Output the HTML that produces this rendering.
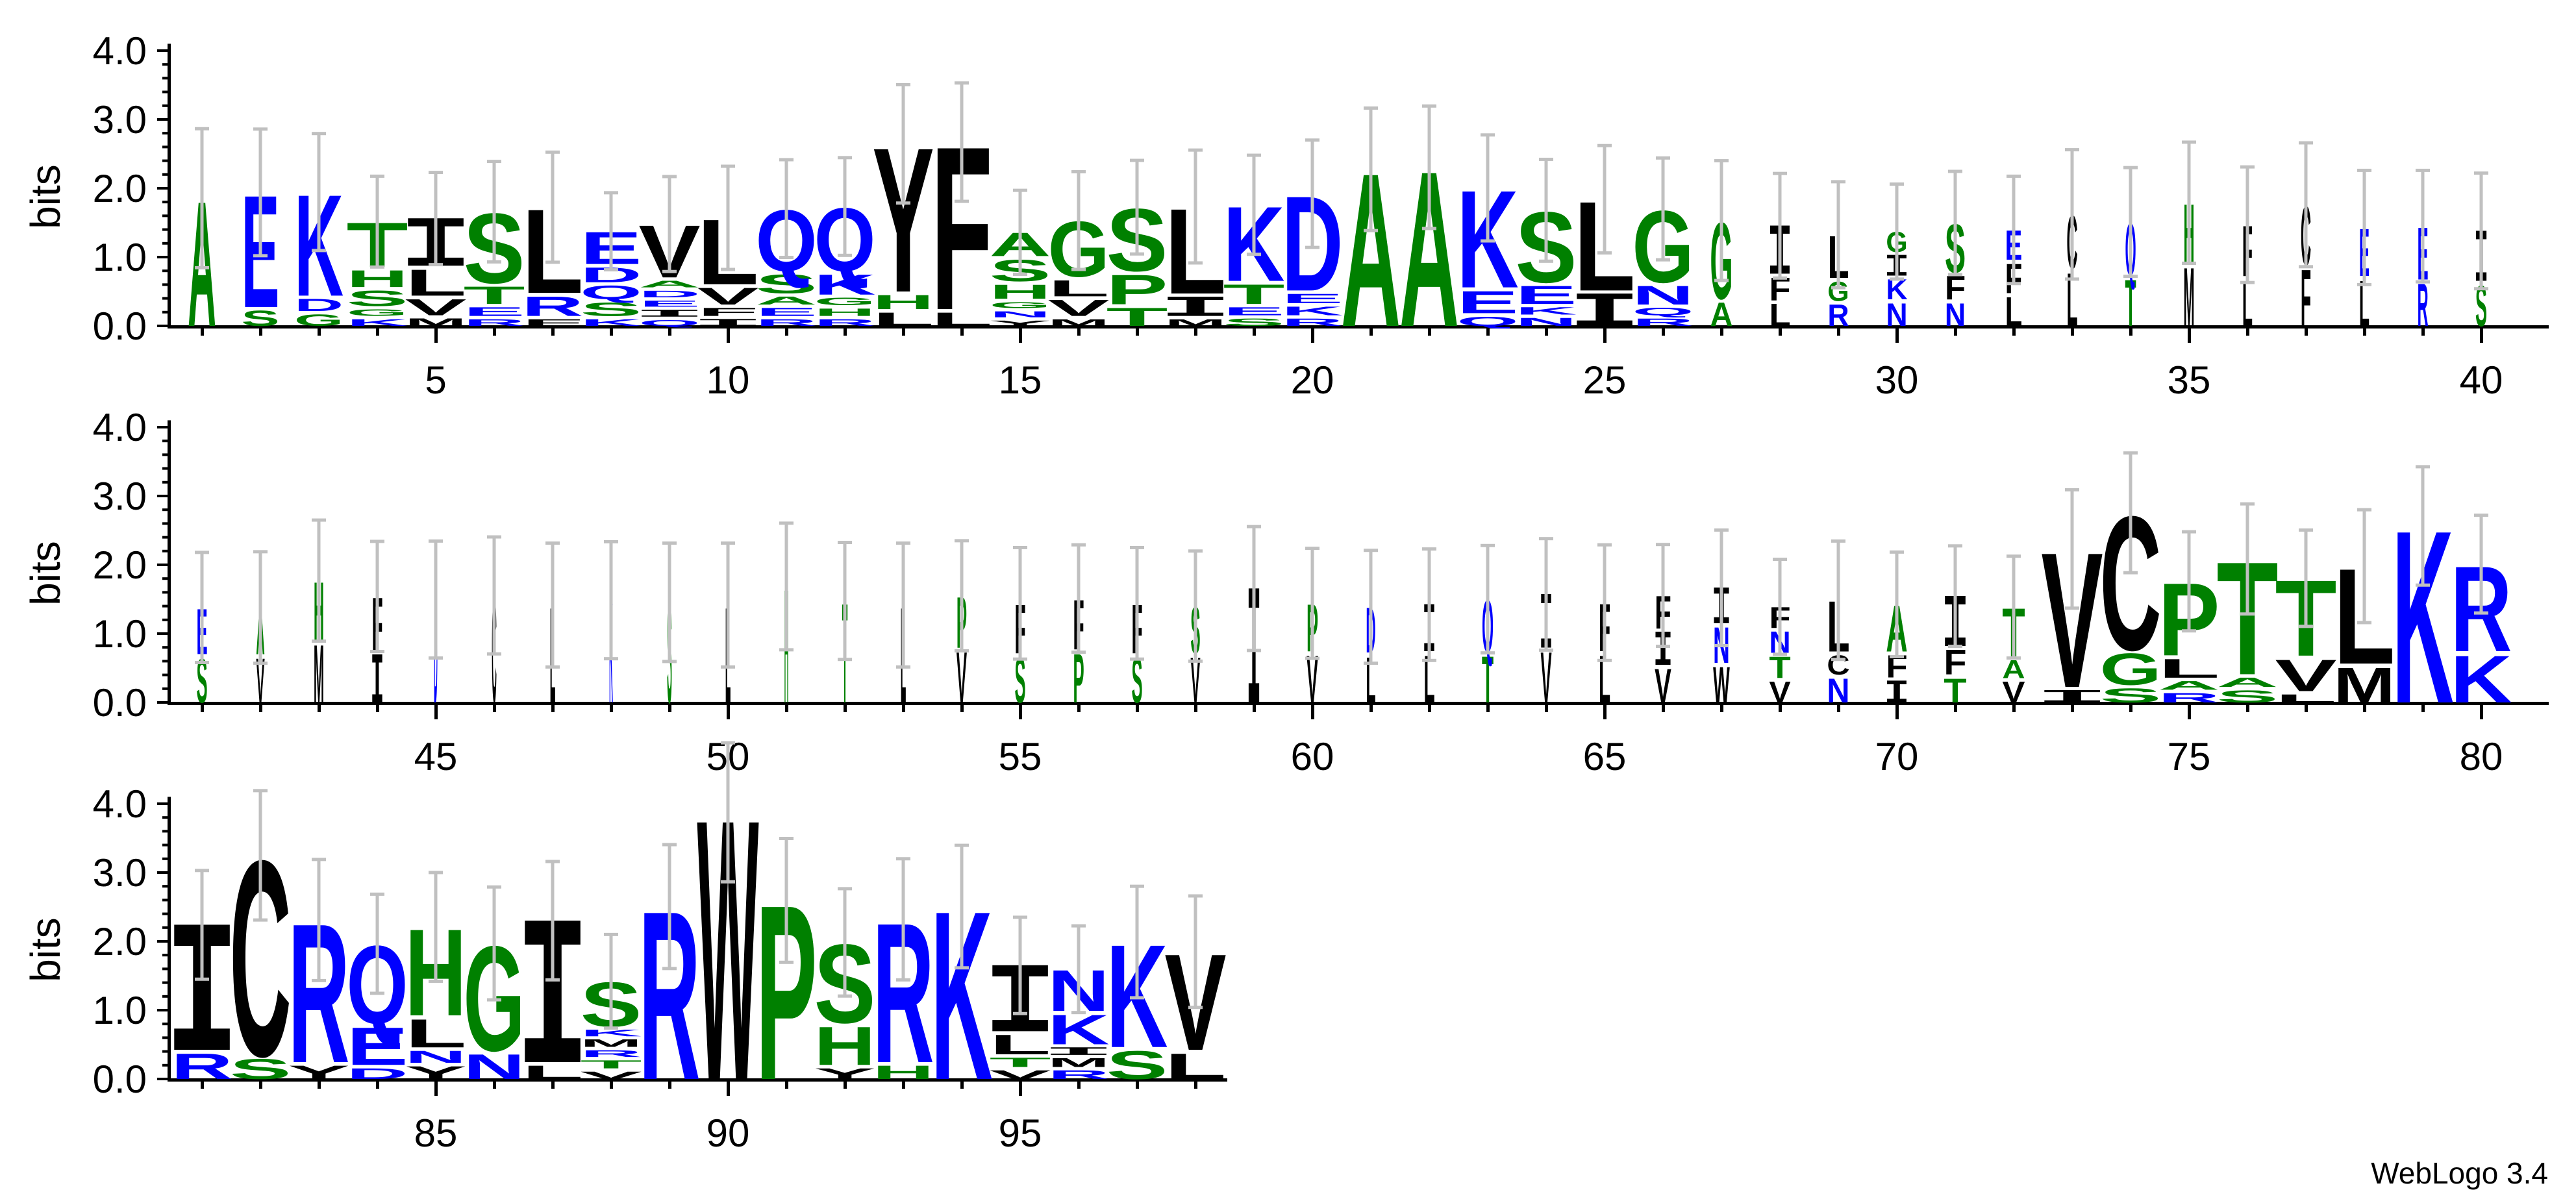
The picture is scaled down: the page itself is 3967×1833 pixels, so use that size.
<!DOCTYPE html>
<html><head><meta charset="utf-8"><title>WebLogo</title>
<style>html,body{margin:0;padding:0;background:#fff;}svg{display:block;}</style>
</head><body>
<svg id="logo" xmlns="http://www.w3.org/2000/svg" width="3967" height="1833" viewBox="0 0 3967 1833">
<rect x="0" y="0" width="3967" height="1833" fill="#fff"/>
<text x="3924" y="1823" text-anchor="end" font-family="Liberation Sans, sans-serif" font-size="46">WebLogo 3.4</text>
</svg>
<script>
const letters = ["A","SE","GDK","KGSHT","MVLI","RETS","FRL","KSQDE","QIEDAV","IFVL","REASQ","RHGKQ","LHY","LF","YNGHSA","MVLG","TPS","MIL","SETK","RKED","A","A","QEK","NKES","IL","RQNG","AG","LFI","RGL","NKIG","NFS","LFE","LC","TQ","MH","LF","FC","LE","RE","SI",
"SE","VA","MH","IF","D","C","L","K","S","L","H","T","L","VP","SF","PF","SF","VS","I","VP","LD","LI","TQ","VI","LF","VIF","WNI","VTNF","NCL","IFA","TFI","VAT","IV","SGC","RALP","SAT","LVT","ML","K","KR",
"RI","SC","YR","DEQ","YNLH","NG","LI","VTRMKS","R","W","P","YHS","HR","K","VTLI","RMIKN","SK","LV"];
const heights = [[1.86],[.23,1.67],[.17,.18,1.51],[.1,.1,.23,.25,.66],[.11,.24,.39,.69],[.1,.13,.26,1.04],[.1,.29,1.25],[.1,.2,.2,.22,.48],[.09,.1,.09,.1,.1,.78],[.1,.12,.25,.97],
[.1,.12,.12,.28,.91],[.1,.11,.11,.3,.94],[.2,.21,2.15],[.2,2.43],[.08,.09,.09,.21,.32,.35],[.1,.24,.24,.82],[.27,.44,.93],[.1,.28,1.27],[.11,.12,.29,1.11],[.11,.13,.14,1.41],
[2.28],[2.31],[.14,.33,1.45],[.12,.11,.27,1.05],[.47,1.33],[.11,.11,.28,1.07],[.35,1.14],[.33,.34,.7],[.32,.29,.63],[.34,.3,.3,.3],
[.34,.35,.72],[.43,.44,.44],[.79,.79],[.69,.78],[.87,.88],[.68,.75],[.84,.88],[.68,.71],[.63,.78],[.61,.73],
[.66,.68],[.66,.68],[.86,.87],[.7,.8],[1.5],[1.56],[1.42],[1.49],[1.46],[1.42],
[1.69],[1.48],[1.42],[.75,.76],[.67,.73],[.73,.74],[.67,.73],[.67,.69],[1.66],[.7,.7],
[.68,.67],[.7,.68],[.69,.77],[.75,.78],[.7,.71],[.5,.48,.49],[.53,.53,.52],[.31,.32,.32,.31],[.36,.29,.75],[.32,.33,.69],
[.36,.37,.73],[.31,.27,.72],[.18,2.01],[.21,.47,1.99],[.14,.13,.28,1.08],[.18,.14,1.68],[.12,.47,1.13],[.52,1.42],[2.57],[.7,1.27],
[.38,1.82],[.3,2.91],[.2,2.07],[.16,.56,1.16],[.19,.18,.42,1.29],[.37,1.56],[.2,2.06],[.11,.12,.1,.11,.1,.66],[2.51],[3.88],
[2.6],[.16,.57,1.17],[.2,2.08],[2.51],[.13,.14,.29,.96],[.13,.13,.11,.44,.61],[.42,1.53],[.38,1.43]];
const errors = [1.01,.92,.85,.66,.67,.73,.8,.56,.69,.75,.71,.71,.86,.86,.61,.71,.68,.82,.72,.78,.89,.89,.77,.74,.78,.74,.87,.76,.77,.69,.75,.78,.94,.79,.88,.84,.9,.83,.81,.84,
.8,.81,.88,.8,.85,.85,.9,.85,.86,.9,.92,.85,.9,.8,.81,.78,.81,.8,.9,.8,.82,.81,.78,.81,.84,.74,.84,.69,.86,.76,.73,.74,.86,.87,.72,.8,.7,.82,.86,.71,
.79,.94,.88,.72,.79,.82,.86,.68,.9,1.01,.9,.78,.88,.89,.7,.63,.81,.81];
const widths = [.46,.62,.8,1,1,1,1,1,1,1,1,1,1,1,1,1,1,1,1,1,.97,.97,1,1,1,1,.37,.35,.35,.35,.34,.28,.18,.18,.18,.17,.17,.17,.18,.19,
.18,.14,.17,.18,.06,.08,.09,.06,.08,.09,.07,.09,.09,.17,.18,.18,.18,.16,.19,.19,.16,.18,.19,.18,.19,.27,.27,.35,.37,.35,.37,.37,1,1,1,1,1,1,1,1,
1,1,1,1,1,1,1,1,1,1,1,1,1,1,1,1,1,1];
const yTicks = ["0.0","1.0","2.0","3.0","4.0"];
const xTickLabels = ["5","10","15","20","25","30","35","40","45","50","55","60","65","70","75","80","85","90","95"];

const NS = "http://www.w3.org/2000/svg";
const svg = document.getElementById("logo");
const BASE = [502, 1082, 1662];
const BIT = 106, X0 = 311, DX = 90, BOXW = 82, GAP = 0.045;
const AXL = 262, AXR = [3925, 3925, 1890];
const GREEN = "AGSTHP", BLUE = "DEKRNQ";
function colorOf(c){ return GREEN.includes(c) ? "#008000" : (BLUE.includes(c) ? "#0000ff" : "#000000"); }
function mk(tag, attrs){ const e = document.createElementNS(NS, tag); for (const k in attrs) e.setAttribute(k, attrs[k]); svg.appendChild(e); return e; }
function xPos(i){ return X0 + (i % 40) * DX; }
function yVal(r, v){ return BASE[r] - v * BIT; }

for (let r = 0; r < 3; r++) {
  const B = BASE[r];
  const xl = mk("rect", {x: AXL - 4, y: B - 1, width: AXR[r] - AXL + 4, height: 5, fill: "#000"});
  
  
  const yl = mk("rect", {x: AXL - 4, y: yVal(r, 4.1), width: 5, height: 4.1 * BIT + 4, fill: "#000"});
  
  
  for (let t = 0; t <= 20; t++) {
    const major = t % 5 === 0;
    const tk = mk("rect", {x: AXL - (major ? 20 : 12), y: yVal(r, t * 0.2) - 2, width: major ? 20 : 12, height: 4, fill: "#000"});
    
    
  }
  yTicks.forEach((lab, k) => {
    const tl = mk("text", {x: 226, y: yVal(r, k) + 21, "text-anchor": "end", "font-family": "Liberation Sans, sans-serif", "font-size": 60});
    tl.textContent = lab;
    
    
  });
  const bl = mk("text", {x: 0, y: 0, transform: "translate(92," + (B - 199) + ") rotate(-90)", "text-anchor": "middle", "font-family": "Liberation Sans, sans-serif", "font-size": 64});
  bl.textContent = "bits";
  
  
}

for (let i = 0; i < letters.length; i++) {
  const r = Math.floor(i / 40), B = BASE[r], x = xPos(i), pos = i + 1;
  const major = pos % 5 === 0;
  const tk = mk("rect", {x: x - 2, y: B + 4, width: 5, height: major ? 22 : 11, fill: "#000"});
  
  
  if (major) {
    const tl = mk("text", {x: x, y: B + 104, "text-anchor": "middle", "font-family": "Liberation Sans, sans-serif", "font-size": 60});
    tl.textContent = xTickLabels[pos / 5 - 1];
    
    
  }
}

for (let i = 0; i < letters.length; i++) {
  const r = Math.floor(i / 40), cx = xPos(i);
  const w = BOXW * widths[i];
  const chars = letters[i], hs = heights[i];
  let v = 0, top = 0;
  for (let k = 0; k < chars.length; k++) {
    const ch = chars[k], h = hs[k] * BIT;
    const yb = yVal(r, v);
    const isI = ch === "I";
    const capH = isI ? 66 : 71.6;
    const b = isI ? 0.2 : 0.08;
    const t = mk("text", {
      x: -100 * b, y: 0,
      textLength: 100 * (1 + 2 * b), lengthAdjust: "spacingAndGlyphs",
      transform: "translate(" + (cx - w / 2) + "," + yb + ") scale(" + (w / 100) + "," + (h / capH) + ")",
      "font-family": isI ? "Liberation Mono, monospace" : "Liberation Sans, sans-serif",
      "font-weight": "bold", "font-size": 100, fill: colorOf(ch)
    });
    t.textContent = ch;
    
    
    top = v + hs[k];
    v = top + GAP;
  }
  const e = errors[i];
  const y1 = yVal(r, top + e), y2 = yVal(r, Math.max(0, top - e));
  const eb = mk("rect", {x: cx - 2.5, y: y1, width: 5, height: y2 - y1, fill: "#c0c0c0"});
  
  
  const c1 = mk("rect", {x: cx - 11, y: y1 - 2, width: 22, height: 5, fill: "#c0c0c0"});
  
  
  const c2 = mk("rect", {x: cx - 11, y: y2 - 2, width: 22, height: 5, fill: "#c0c0c0"});
  
  
}
</script>
</body></html>
